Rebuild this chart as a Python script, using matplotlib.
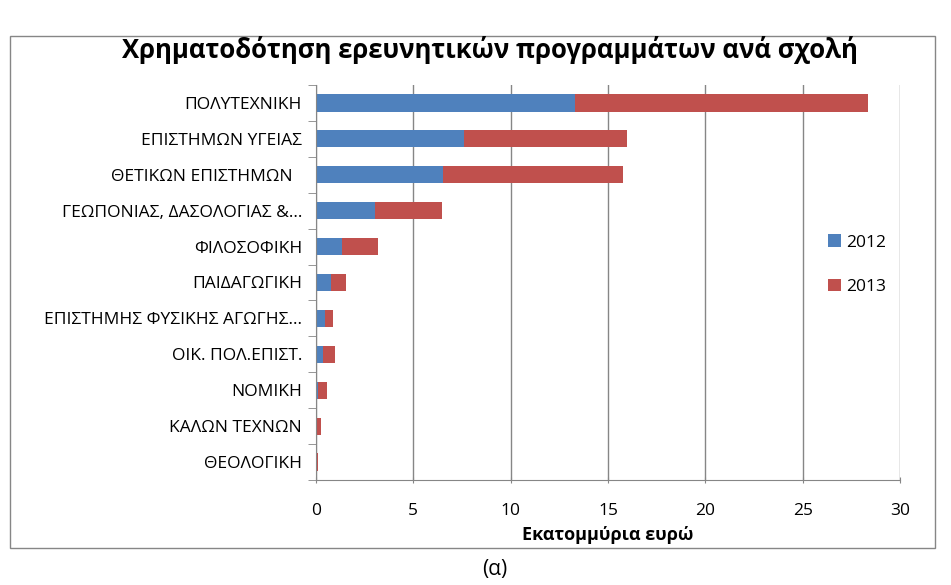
import matplotlib
matplotlib.use('Agg')
from matplotlib import pyplot as plt
from matplotlib.patches import Rectangle
import numpy as np

schools = ['ΠΟΛΥΤΕΧΝΙΚΗ', 'ΕΠΙΣΤΗΜΩΝ ΥΓΕΙΑΣ', 'ΘΕΤΙΚΩΝ ΕΠΙΣΤΗΜΩΝ  ',
           'ΓΕΩΠΟΝΙΑΣ, ΔΑΣΟΛΟΓΙΑΣ &…', 'ΦΙΛΟΣΟΦΙΚΗ', 'ΠΑΙΔΑΓΩΓΙΚΗ',
           'ΕΠΙΣΤΗΜΗΣ ΦΥΣΙΚΗΣ ΑΓΩΓΗΣ…', 'ΟΙΚ. ΠΟΛ.ΕΠΙΣΤ.', 'ΝΟΜΙΚΗ',
           'ΚΑΛΩΝ ΤΕΧΝΩΝ', 'ΘΕΟΛΟΓΙΚΗ']
vals_2012 = [13.3, 7.6, 6.5, 3.05, 1.35, 0.75, 0.48, 0.36, 0.12, 0.03, 0.01]
vals_2013 = [15.05, 8.4, 9.25, 3.4, 1.85, 0.8, 0.37, 0.6, 0.44, 0.24, 0.09]
xticks = [0, 5, 10, 15, 20, 25, 30]

plt.rcParams['font.family'] = ['Open Sans', 'DejaVu Sans']

fig = plt.figure(figsize=(9.51, 5.85), dpi=100)
W, H = 951, 585
ax = fig.add_axes([316 / W, 1 - 480 / H, (900 - 316) / W, (480 - 85) / H])

y = np.arange(len(schools))
b1 = ax.barh(y, vals_2012, height=0.48, color='#4f81bd', label='2012')
b2 = ax.barh(y, vals_2013, left=vals_2012, height=0.48, color='#c0504d', label='2013')

ax.set_ylim(len(schools) - 0.5, -0.5)
ax.set_xlim(0, 30)
ax.set_yticks(y)
ax.set_yticklabels(schools, fontsize=12.5)
ax.set_yticks(np.arange(len(schools) + 1) - 0.5, minor=True)
ax.tick_params(axis='y', which='major', length=0, pad=10)
ax.tick_params(axis='y', which='minor', length=6, color='#868686')
ax.set_xticks(xticks)
ax.set_xticklabels([str(v) for v in xticks], fontsize=12.5)
ax.tick_params(axis='x', length=5, color='#868686', direction='inout', pad=14)
ax.grid(axis='x', color='#868686', linewidth=1)
ax.set_axisbelow(True)
for s in ['top', 'right']:
    ax.spines[s].set_visible(False)
ax.spines['left'].set_color('#868686')
ax.spines['bottom'].set_color('#868686')
ax.set_xlabel('Εκατομμύρια ευρώ', fontsize=13, fontweight='bold', labelpad=5)

fig.text(490 / W, 1 - 50 / H, 'Χρηματοδότηση ερευνητικών προγραμμάτων ανά σχολή',
         ha='center', va='center', fontsize=18.5, fontweight='bold')

ax.legend(handles=[b1, b2], loc='center left', bbox_to_anchor=(0.85, 0.545),
          frameon=False, fontsize=12.5, labelspacing=1.6, handlelength=0.75,
          handleheight=0.75, handletextpad=0.3)

fig.patches.append(Rectangle((10 / W, 1 - 548 / H), 925 / W, 512 / H,
                             transform=fig.transFigure, fill=False,
                             edgecolor='#868686', linewidth=1))
fig.text(495 / W, 1 - 570 / H, '(α)', ha='center', va='center', fontsize=15)

plt.savefig('out.png', dpi=100)
